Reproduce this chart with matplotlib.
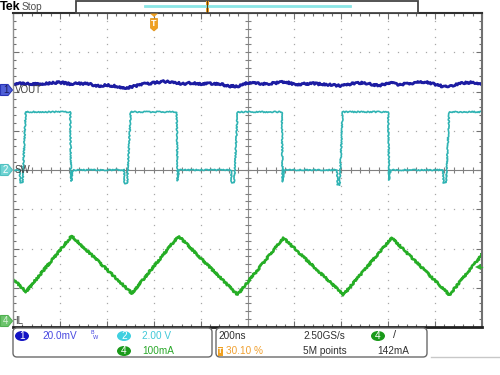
import numpy as np
import matplotlib
matplotlib.use("Agg")
import matplotlib.pyplot as plt
from matplotlib.patches import Rectangle, FancyBboxPatch, Polygon, Ellipse

plt.rcParams['font.family'] = ['Liberation Sans', 'DejaVu Sans']

# scope settings
ns_per_div = 200
trig_pos = 0.301            # horizontal position 30.10 %
ch1_scale, ch1_off = 20.0, 2.04     # mV/div, marker (div)
ch2_scale, ch2_off = 2.0, 0.0       # V/div
ch4_scale, ch4_off = 100.0, -3.87   # mA/div
trig_level = 142            # mA

# VOUT (mV above ch1 marker), sampled every 40 ns
vout_t = np.arange(-600, 1401, 40)
vout_mv = [3.1, 3.3, 3.1, 2.8, 3.6, 3.8, 3.1, 3.3, 3.1, 2.0,
           2.5, 1.8, 1.0, 2.0, 3.1, 3.6, 4.3, 4.1, 3.1, 3.6,
           3.1, 3.3, 3.1, 1.8, 2.0, 3.6, 3.3, 3.1, 3.6, 4.1,
           2.8, 3.1, 3.3, 2.8, 2.5, 2.0, 3.1, 3.6, 3.1, 2.0,
           3.8, 2.8, 3.1, 3.8, 4.1, 2.8, 1.5, 2.5, 3.6, 3.8, 3.1]

# SW node (V)
sw_t = [-601, -574, -569, -561, -548, -358, -354, -347, -128, -126, -115, -100,
        96, 100, 107, 328, 330, 341, 356, 544, 548, 554, 780, 782, 791, 804,
        998, 1002, 1008, 1232, 1234, 1245, 1258, 1398]
sw_v = [0, 0, -0.65, -0.65, 2.96, 2.96, -0.56, 0, 0, -0.7, -0.7, 2.96,
        2.96, -0.55, 0, 0, -0.66, -0.66, 2.96, 2.96, -0.6, 0, 0, -0.75, -0.75, 2.96,
        2.96, -0.51, 0, 0, -0.66, -0.66, 2.96, 2.96]

# inductor current (mA)
il_t = [-602, -546, -352, -95, 104, 355, 551, 807, 1013, 1259, 1398]
il_ma = [109, 77, 219, 73, 219, 69, 214, 69, 214, 69, 171]

t0 = -trig_pos * 10 * ns_per_div
t1 = t0 + 10 * ns_per_div
tc = t0 + 5 * ns_per_div

fig = plt.figure(figsize=(5, 3.75), dpi=100)
ax = fig.add_axes([13 / 500, 1 - 327 / 375, 469 / 500, 314 / 375])
ax.set_xlim(t0, t1)
ax.set_ylim(-4, 4)

# graticule
gx = np.arange(t0, t1 + 1, ns_per_div)
gy = np.arange(-4, 4.01, 1)
ax.set_xticks(gx)
ax.set_yticks(gy)
ax.set_xticks(np.arange(t0, t1 + 1, ns_per_div / 5), minor=True)
ax.set_yticks(np.arange(-4, 4.01, 0.2), minor=True)
ax.tick_params(which='both', direction='in', top=True, right=True,
               labelbottom=False, labelleft=False, color='#707070')
ax.tick_params(which='major', length=4, width=0.8)
ax.tick_params(which='minor', length=2.5, width=0.8)

dots_y = np.arange(-4, 4.01, 0.2)
dots_x = np.arange(t0, t1 + 1, ns_per_div / 5)
for x in gx[1:-1]:
    if x != tc:
        ax.plot(np.full(len(dots_y), x), dots_y, ls='', marker='s', ms=0.9,
                mew=0, color='#a8a8a8')
for y in gy[1:-1]:
    if y != 0:
        ax.plot(dots_x, np.full(len(dots_x), y), ls='', marker='s', ms=0.9,
                mew=0, color='#a8a8a8')
ax.axhline(0, color='#808080', lw=0.8)
ax.axvline(tc, color='#909090', lw=0.8)
ax.plot(dots_x, np.zeros(len(dots_x)), ls='', marker='|', ms=4, mew=0.8, color='#808080')
ax.plot(np.full(len(dots_y), tc), dots_y, ls='', marker='_', ms=4, mew=0.8, color='#808080')

for side, c, w in [('top', '#303030', 1.5), ('bottom', '#202020', 2.0),
                   ('left', '#909090', 1.0), ('right', '#707070', 1.5)]:
    ax.spines[side].set_color(c)
    ax.spines[side].set_linewidth(w)

# traces
ln1, = ax.plot(vout_t, ch1_off + np.array(vout_mv) / ch1_scale, color='#1c1ca2', lw=2.0)
ln2, = ax.plot(sw_t, ch2_off + np.array(sw_v) / ch2_scale, color='#2fb3b3', lw=1.2)
ln4, = ax.plot(il_t, ch4_off + np.array(il_ma) / ch4_scale, color='#25ad25', lw=1.9)
ln1.set_sketch_params(scale=1.0, length=3, randomness=3)
ln2.set_sketch_params(scale=0.6, length=3, randomness=3)
ln4.set_sketch_params(scale=0.8, length=3, randomness=3)

# overlay in pixel coordinates
ov = fig.add_axes([0, 0, 1, 1], zorder=5)
ov.set_xlim(0, 500)
ov.set_ylim(375, 0)
ov.axis('off')
ov.patch.set_alpha(0)

# header
ov.text(-0.5, 6.5, 'Tek', fontsize=9, fontweight='bold', va='center', ha='left')
ov.text(22, 6.5, 'Stop', fontsize=7.3, color='#505050', va='center', ha='left')
ov.add_patch(Rectangle((76, 0.5), 342, 12, facecolor='white', edgecolor='#454545', lw=1.3))
ov.plot([145, 350], [5.5, 5.5], color='#8ae6e6', lw=2)
ov.add_patch(Rectangle((205.5, 1), 3.5, 11, facecolor='#f0a020', edgecolor='none'))
ov.plot([207.2, 207.2], [1, 12], color='#604010', lw=0.8)

# trigger position marker
ov.add_patch(Polygon([[150, 13.5], [158, 13.5], [154, 17]], closed=True,
                     facecolor='#f0a020', edgecolor='none'))
ov.add_patch(Polygon([[150.5, 18.5], [157.5, 18.5], [157.5, 28], [154, 31], [150.5, 28]],
                     closed=True, facecolor='#f0a020', edgecolor='#e09010', lw=0.5))
ov.text(154, 24, 'T', color='white', fontsize=6.5, fontweight='bold', ha='center', va='center')

# trigger level arrow
ov.plot([478], [266.5], marker='<', ms=4.5, color='#30b030', mew=0)
ov.plot([478, 482], [266.5, 266.5], color='#30b030', lw=1)

# channel markers
def ch_marker(y, num, fc, ec, tc_, label):
    ov.add_patch(Polygon([[0.5, y - 5.5], [8, y - 5.5], [12.5, y], [8, y + 5.5], [0.5, y + 5.5]],
                         closed=True, facecolor=fc, edgecolor=ec, lw=0.8))
    ov.text(5.5, y + 0.3, num, color=tc_, fontsize=7, ha='center', va='center')
    ov.text(15, y + 0.3, label, color='#404040', fontsize=7, ha='left', va='center')

ch_marker(90, '1', '#5060d8', '#2a36b8', '#1a1a60', 'VOUT')
ch_marker(170, '2', '#70d4d4', '#50c0c0', 'white', 'SW')
ch_marker(321, '4', '#6cc46c', '#50b050', '#d8f0d8', 'IL')

# bottom readout panels
for x0, x1 in [(13, 212), (216, 427)]:
    ov.add_patch(FancyBboxPatch((x0, 328), x1 - x0, 29, boxstyle='round,pad=0,rounding_size=4',
                                facecolor='white', edgecolor='#6a6a6a', lw=1.0))
ov.plot([431, 500], [357, 357], color='#c8c8c8', lw=1)

def badge(x, y, num, fc):
    ov.add_patch(Ellipse((x, y), 14, 10, facecolor=fc, edgecolor='none'))
    ov.text(x, y + 0.3, num, color='white', fontsize=7.3, ha='center', va='center')

fs = 7.2
badge(22, 336, '1', '#1414c4')
ov.text(42, 336, '20.0mV', color='#4848e0', fontsize=fs, va='center')
ov.text(90, 335, r'$^{\mathsf{B}}\!_{\mathsf{W}}$', color='#4848e0', fontsize=5.5, va='center')
badge(124, 336, '2', '#40d0e0')
ov.text(142, 336, '2.00 V', color='#40c8d8', fontsize=fs, va='center')
badge(124, 351, '4', '#1a9a1a')
ov.text(142, 351, '100mA', color='#2aa82a', fontsize=fs, va='center')

ov.text(218, 336, '200ns', color='#303030', fontsize=fs, va='center')
ov.add_patch(Rectangle((218, 346.5), 5, 9, facecolor='#f0a020', edgecolor='none'))
ov.text(220.5, 351.2, 'T', color='white', fontsize=5.5, fontweight='bold', ha='center', va='center')
ov.text(226, 351, '30.10 %', color='#f0a030', fontsize=fs, va='center')
ov.text(303, 336, '2.50GS/s', color='#303030', fontsize=fs, va='center')
ov.text(303, 351, '5M points', color='#303030', fontsize=fs, va='center')
badge(378, 336, '4', '#1a9a1a')
ov.text(393, 335.5, '/', color='#303030', fontsize=8, va='center')
ov.text(377, 351, '142mA', color='#303030', fontsize=fs, va='center')

fig.savefig('out.png', dpi=100)
